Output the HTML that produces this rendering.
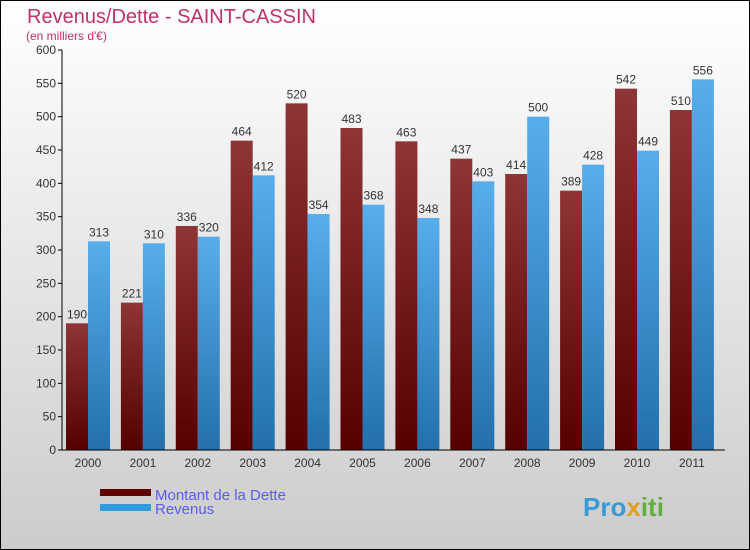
<!DOCTYPE html>
<html><head><meta charset="utf-8"><style>
body{margin:0}
#wrap{width:750px;height:550px;position:relative;box-sizing:border-box;border:1px solid #000;background:linear-gradient(#fff,#ccc);font-family:"Liberation Sans",sans-serif;overflow:hidden}
</style></head><body>
<div id="wrap">
<svg id="c" width="750" height="550" style="position:absolute;left:-1px;top:-1px">
<defs>
<linearGradient id="gd" x1="0" y1="0" x2="0" y2="1"><stop offset="0" stop-color="#8e3535"/><stop offset="1" stop-color="#560000"/></linearGradient>
<linearGradient id="gr" x1="0" y1="0" x2="0" y2="1"><stop offset="0" stop-color="#58adeb"/><stop offset="1" stop-color="#2370ab"/></linearGradient>
</defs>
<text x="27" y="23" font-size="20" fill="#c0306a">Revenus/Dette - SAINT-CASSIN</text>
<text x="26" y="40" font-size="12" fill="#c0306a">(en milliers d'€)</text>
<g id="g"></g>
<rect x="100" y="489" width="51" height="7" fill="#600000"/>
<text x="155" y="500" font-size="15" fill="#5b5bf0">Montant de la Dette</text>
<rect x="100" y="504" width="51" height="7" fill="#3399dd"/>
<text x="155" y="514" font-size="15" fill="#5b5bf0">Revenus</text>
<text x="583" y="516" font-size="26" font-weight="bold" fill="#3a9ad8">Pro<tspan fill="#e0a020">x</tspan><tspan fill="#60b040">iti</tspan></text>
</svg>
</div>
<script>
const years=["2000","2001","2002","2003","2004","2005","2006","2007","2008","2009","2010","2011"];
const dette=[190,221,336,464,520,483,463,437,414,389,542,510];
const revenus=[313,310,320,412,354,368,348,403,500,428,449,556];
const yTicks=[0,50,100,150,200,250,300,350,400,450,500,550,600];
const g=document.getElementById('g');const NS="http://www.w3.org/2000/svg";
const y0=450,yTop=50,ymax=600,x0=62,step=54.9,bw=22;
const yS=v=>y0-(v/ymax)*(y0-yTop);
function mk(t,a,txt){const e=document.createElementNS(NS,t);for(const k in a)e.setAttribute(k,a[k]);if(txt!==undefined)e.textContent=txt;g.appendChild(e);return e;}
yTicks.forEach(v=>{
 const l=mk('line',{x1:58,x2:62,y1:yS(v),y2:yS(v),stroke:'#000'});
 
 
 const t=mk('text',{x:56,y:yS(v)+4,'text-anchor':'end','font-size':12,fill:'#333'},v);
 
 
});
years.forEach((yr,i)=>{
 const gx=x0+4+i*step;
 [[dette[i],'url(#gd)',gx,'bar-dette-'],[revenus[i],'url(#gr)',gx+bw,'bar-revenus-']].forEach(([v,f,x,n])=>{
  const r=mk('rect',{x:x,y:yS(v),width:bw,height:y0-yS(v),fill:f});
  
  
  const t=mk('text',{x:x+bw/2,y:yS(v)-5,'text-anchor':'middle','font-size':12,fill:'#333'},v);
  
  
 });
 const t=mk('text',{x:gx+bw,y:467,'text-anchor':'middle','font-size':12,fill:'#333'},yr);
 
 
});
const ax=mk('line',{x1:62,x2:62,y1:50,y2:450,stroke:'#000'});


const bx=mk('line',{x1:58,x2:725,y1:450,y2:450,stroke:'#000'});


</script>
</body></html>
